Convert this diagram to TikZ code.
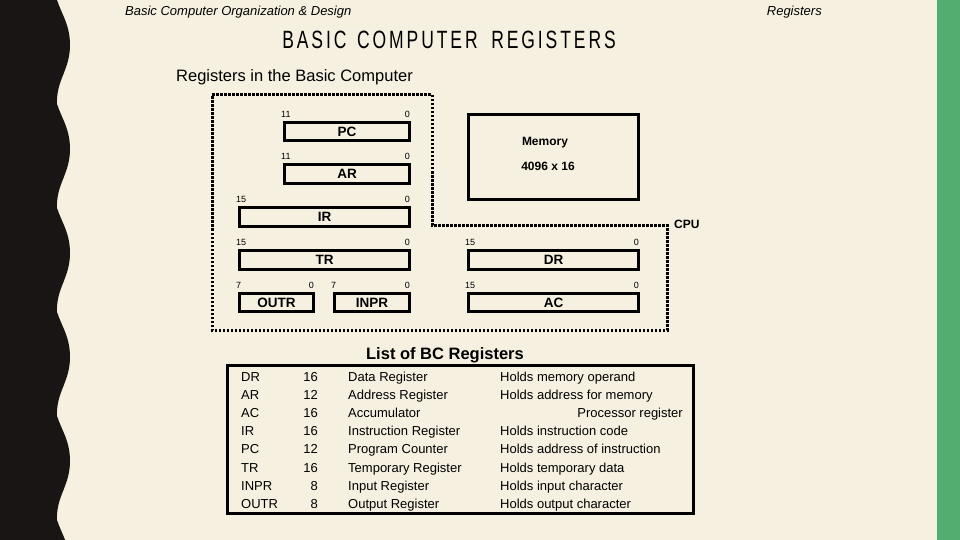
\documentclass[tikz,border=0pt]{standalone}
\usepackage{fontspec}
\setmainfont{Liberation Sans}
\begin{document}
\begin{tikzpicture}[x=1pt,y=-1pt,
 reg/.style={draw,line width=3pt,font=\bfseries\fontsize{13.5}{13.5}\selectfont,inner sep=0pt,anchor=north west},
 bit/.style={font=\fontsize{9}{9}\selectfont,inner sep=0pt},
 cell/.style={font=\fontsize{13}{13}\selectfont,inner sep=0pt,anchor=base west}]
\useasboundingbox (0,0) rectangle (960,540);
\fill[fill={rgb,255:red,246;green,240;blue,225}] (0,0) rectangle (960,540);
\fill[fill={rgb,255:red,82;green,174;blue,112}] (937,0) rectangle (960,540);
\fill[fill={rgb,255:red,24;green,21;blue,20}] (0,0) -- (57,0)
 \foreach \k in {0,...,5} { .. controls (62,{\k*104+15}) and (70,{\k*104+25}) .. (70,{\k*104+45}) .. controls (70,{\k*104+70}) and (56,{\k*104+80}) .. (57,{\k*104+104}) } -- (0,624) -- cycle;
\node[font=\itshape\fontsize{13}{13}\selectfont,anchor=west,inner sep=0pt] (h1) at (125,12) {Basic Computer Organization \& Design};
\node[font=\itshape\fontsize{13}{13}\selectfont,anchor=east,inner sep=0pt] (h2) at (822,12) {Registers};
\node[font=\fontsize{25}{25}\selectfont,xscale=0.7,inner sep=0pt] (title) at (449,40) {B\,A\,S\,I\,C\, \,C\,O\,M\,P\,U\,T\,E\,R\, \,\,R\,E\,G\,I\,S\,T\,E\,R\,S};
\node[font=\fontsize{16.5}{16.5}\selectfont,anchor=west,inner sep=0pt] (sub) at (176,77) {Registers in the Basic Computer};
\draw[line width=3pt,dash pattern=on 2.5pt off 1.5pt] (212,95) -- (432,95) -- (432,225) -- (667,225) -- (667,330) -- (212,330) -- cycle;
\node[font=\bfseries\fontsize{12}{12}\selectfont,anchor=west,inner sep=0pt] (cpu) at (674,224) {CPU};
\node[reg,minimum width=125pt,minimum height=18pt] (pc) at (283,121) {PC};
\node[reg,minimum width=125pt,minimum height=19pt] (ar) at (283,163) {AR};
\node[reg,minimum width=170pt,minimum height=19pt] (ir) at (238,206) {IR};
\node[reg,minimum width=170pt,minimum height=19pt] (tr) at (238,249) {TR};
\node[reg,minimum width=74pt,minimum height=18pt] (outr) at (238,292) {OUTR};
\node[reg,minimum width=75pt,minimum height=18pt] (inpr) at (333,292) {INPR};
\node[reg,minimum width=170pt,minimum height=19pt] (dr) at (467,249) {DR};
\node[reg,minimum width=170pt,minimum height=18pt] (ac) at (467,292) {AC};
\node[reg,minimum width=170pt,minimum height=85pt] (mem) at (467,113) {};
\node[font=\bfseries\fontsize{12}{12}\selectfont,inner sep=0pt] (m1) at (545,143) {Memory};
\node[font=\bfseries\fontsize{12}{12}\selectfont,inner sep=0pt] (m2) at (548,166) {4096 x 16};
\foreach \n/\l in {pc/11,ar/11,ir/15,tr/15,outr/7,inpr/7,dr/15,ac/15}{
 \node[bit,anchor=south west] (\n l) at ([xshift=-2pt,yshift=3pt]\n.north west) {\l};
 \node[bit,anchor=south east] (\n r) at ([xshift=-1pt,yshift=3pt]\n.north east) {0};}
\node[font=\bfseries\fontsize{16.5}{16.5}\selectfont,inner sep=0pt] (lt) at (445,355) {List of BC Registers};
\draw[line width=3pt] (227,365) rectangle (693,513);
\foreach \a/\b/\c/\d/\i in {DR/16/Data Register/Holds memory operand/0,AR/12/Address Register/Holds address for memory/1,AC/16/Accumulator//2,IR/16/Instruction Register/Holds instruction code/3,PC/12/Program Counter/Holds address of instruction/4,TR/16/Temporary Register/Holds temporary data/5,INPR/8/Input Register/Holds input character/6,OUTR/8/Output Register/Holds output character/7}{
 \node[cell] (n\i) at (241,{381+\i*18.2}) {\a};
 \node[cell,anchor=base east] (b\i) at (318,{381+\i*18.2}) {\b};
 \node[cell] (c\i) at (348,{381+\i*18.2}) {\c};
 \node[cell] (d\i) at (500,{381+\i*18.2}) {\d};}
\node[cell,anchor=base east] (pr) at (683,417.4) {Processor register};
\end{tikzpicture}
\end{document}
